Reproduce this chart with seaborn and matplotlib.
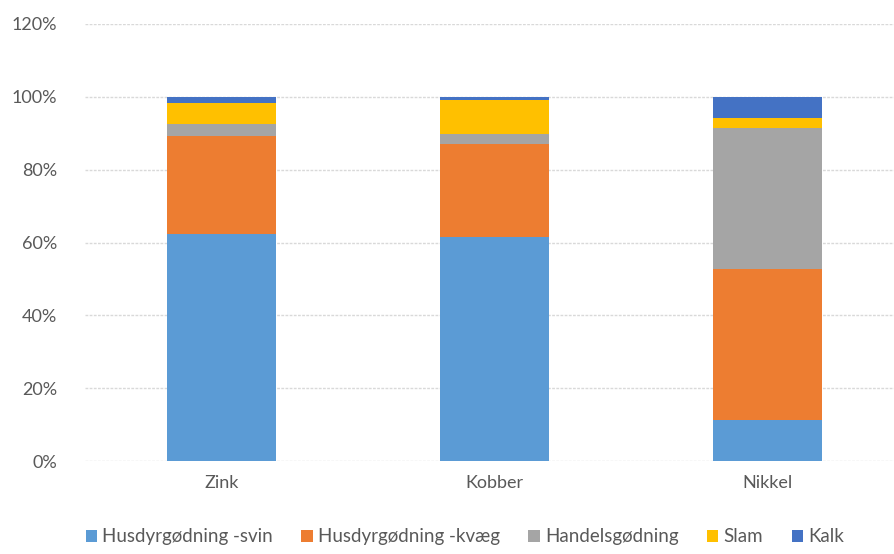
import numpy as np
import pandas as pd
import matplotlib.pyplot as plt
import seaborn as sns

# data (shares in %)
metals = ["Zink", "Kobber", "Nikkel"]
sources = ["Husdyrgødning -svin", "Husdyrgødning -kvæg", "Handelsgødning", "Slam", "Kalk"]
svin = [62.4, 61.4, 11.3]
kvaeg = [26.9, 25.7, 41.4]
handel = [3.2, 2.6, 38.7]
slam = [5.8, 9.3, 2.7]
kalk = [1.7, 1.0, 5.9]
colors = ["#5B9BD5", "#ED7D31", "#A5A5A5", "#FFC000", "#4472C4"]

df = pd.DataFrame({"metal": metals, sources[0]: svin, sources[1]: kvaeg,
                   sources[2]: handel, sources[3]: slam, sources[4]: kalk})
cum = df[sources].cumsum(axis=1)

sns.set_style("white")
plt.rcParams["font.family"] = ["Lato", "DejaVu Sans"]

fig = plt.figure(figsize=(8.94, 5.54), dpi=100)
ax = fig.add_axes([85 / 894, 93 / 554, 809 / 894, 437 / 554])

# stacked bars: draw cumulative totals from the top layer down
for src, col in reversed(list(zip(sources, colors))):
    sns.barplot(x=df["metal"], y=cum[src] / 100, color=col, width=0.4,
                saturation=1, ax=ax, label=src, zorder=3, linewidth=0)

ax.set_ylim(0, 1.2)
ax.set_xlim(-0.5, 2.465)
ax.set_yticks(np.arange(0, 1.21, 0.2))
ax.set_yticklabels([f"{int(round(v * 100))}%" for v in np.arange(0, 1.21, 0.2)])
ax.yaxis.grid(True, color="#D9D9D9", linestyle=(0, (2, 1)), linewidth=1, zorder=0)
ax.set_axisbelow(True)
for s in ax.spines.values():
    s.set_visible(False)
ax.tick_params(axis="both", length=0, labelsize=13, colors="#595959")
ax.tick_params(axis="y", pad=20)
ax.tick_params(axis="x", pad=10)
ax.set_xlabel("")
ax.set_ylabel("")

# legend in original order
handles, labels = ax.get_legend_handles_labels()
order = [labels.index(s) for s in sources]
ax.legend().remove()
fig.legend([handles[i] for i in order], sources, loc="lower center",
           bbox_to_anchor=(0.52, -0.015), ncol=5, frameon=False, fontsize=13.5,
           handlelength=0.6, handleheight=0.6, handletextpad=0.3, columnspacing=1.5,
           labelcolor="#595959")

fig.savefig("out.png", dpi=100)
